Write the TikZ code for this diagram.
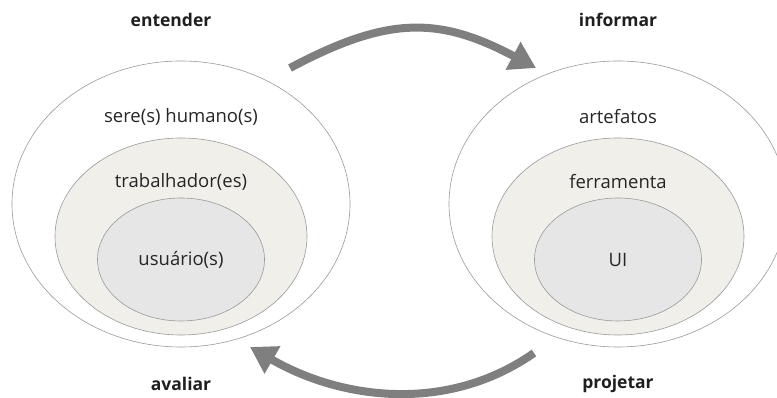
\documentclass[tikz,border=0pt]{standalone}
\usepackage{fontspec}
\setmainfont{Open Sans}
\usepackage{tikz}
\usetikzlibrary{arrows.meta,shapes.geometric,positioning}

\definecolor{sand}{HTML}{F1EFEA}
\definecolor{mist}{HTML}{E6E6E6}
\definecolor{ringgray}{HTML}{9A9A9A}
\definecolor{arrowgray}{HTML}{7F7F7F}

\tikzset{
  ring/.style={ellipse,draw=ringgray,line width=0.6pt,inner sep=0pt},
  outerring/.style={ring,fill=white,minimum width=338pt,minimum height=286pt},
  midring/.style={ring,fill=sand,minimum width=252pt,minimum height=197pt},
  innerring/.style={ring,fill=mist,minimum width=167pt,minimum height=123pt},
  phase/.style={font=\fontsize{17.5}{21}\selectfont\bfseries,text=black!88},
  layer/.style={font=\fontsize{18.5}{22}\selectfont,text=black!85},
  cyclearrow/.style={draw=arrowgray,line width=8pt,-{Triangle[length=26pt,width=30pt]}}
}

\begin{document}
\begin{tikzpicture}[x=1pt,y=1pt]
\useasboundingbox (0,0) rectangle (777,398);

% left side: people
\node[outerring] (humanos) at (181,194) {};
\node[midring] (trabalhadores) at (181,161.5) {};
\node[innerring] (usuarios) at (181,138.5) {};
\node[layer] (humanostxt) at ([yshift=-56pt]humanos.north) {sere(s) humano(s)};
\node[layer] (trabtxt) at ([yshift=-44pt]trabalhadores.north) {trabalhador(es)};
\node[layer] (usutxt) at (usuarios.center) {usuário(s)};

% right side: artefacts
\node[outerring] (artefatos) at (618,194) {};
\node[midring] (ferramenta) at (618,161.5) {};
\node[innerring] (ui) at (618,138.5) {};
\node[layer] (artetxt) at ([yshift=-56pt]artefatos.north) {artefatos};
\node[layer] (ferrtxt) at ([yshift=-44pt]ferramenta.north) {ferramenta};
\node[layer] (uitxt) at (ui.center) {UI};

% phases
\node[phase] (entender) at ([xshift=-10pt,yshift=41pt]humanos.north) {entender};
\node[phase] (informar) at ([yshift=41pt]artefatos.north) {informar};
\node[phase] (avaliar) at ([yshift=-37pt]humanos.south) {avaliar};
\node[phase] (projetar) at ([yshift=-37pt]artefatos.south) {projetar};

% cycle
\coordinate (topstart) at (290,330);
\coordinate (toptip) at (536,330);
\coordinate (botstart) at (534,45);
\coordinate (bottip) at (250,51);
\draw[cyclearrow] (topstart) to[out=28,in=152,looseness=1.15] (toptip);
\draw[cyclearrow] (botstart) to[out=215,in=-30,looseness=0.95] (bottip);
\end{tikzpicture}
\end{document}
